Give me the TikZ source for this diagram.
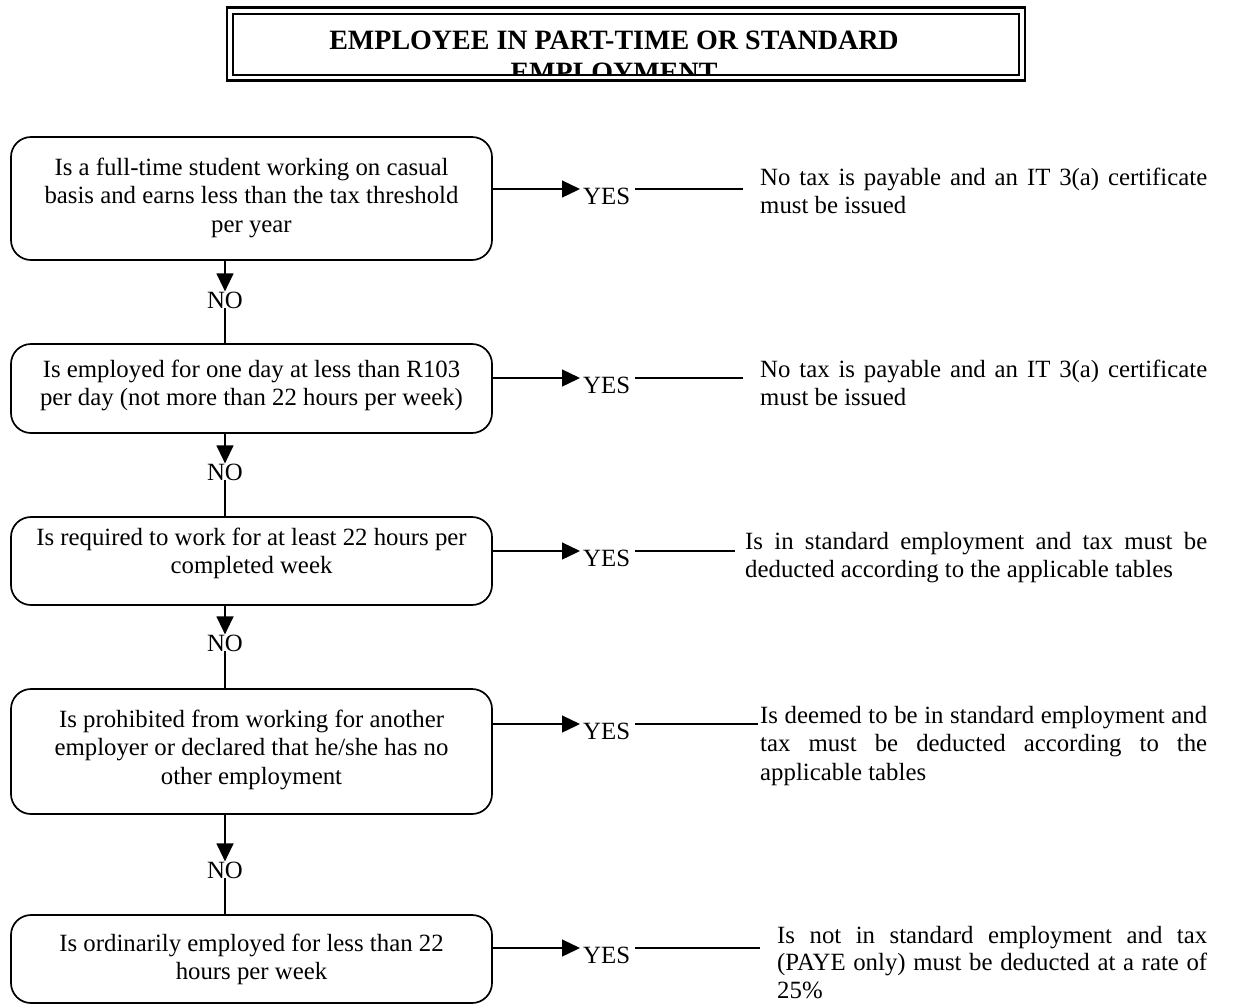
\documentclass[tikz,border=0pt]{standalone}
\usepackage{fontspec}
\setmainfont{Liberation Serif}
\usetikzlibrary{arrows.meta,calc}
\newcommand{\bodyfont}{\fontsize{24.8}{28.6}\selectfont}
\newcommand{\titlefont}{\fontsize{28}{32}\selectfont\bfseries}
\begin{document}
\begin{tikzpicture}[x=1pt,y=-1pt,
  qbox/.style={draw, line width=1.7pt, rounded corners=20pt, minimum width=481pt, inner sep=0pt},
  qtext/.style={anchor=base, inner sep=0pt, font=\bodyfont},
  rtext/.style={anchor=base west, inner sep=0pt, font=\bodyfont},
  lab/.style={anchor=base, inner sep=0pt, font=\bodyfont},
  ylab/.style={anchor=base west, inner sep=0pt, font=\bodyfont},
  conn/.style={line width=1.3pt},
  arr/.style={conn, -{Triangle[length=18pt,width=17pt]}},
  frame/.style={line width=2.2pt}
]
\useasboundingbox (0,0) rectangle (1236,1005);
\fill[white] (0,0) rectangle (1236,1005);

% title
\begin{scope}
  \clip (234.2,14.7) rectangle (1017.8,73.9);
  \node[anchor=base, inner sep=0pt, font=\titlefont] (title) at (614,49)
    {\parbox[t]{780pt}{\centering EMPLOYEE IN PART-TIME OR STANDARD\\EMPLOYMENT}};
\end{scope}
\draw[frame, line width=2.6pt] (227,7.5) rectangle (1025,80.5);
\draw[frame, line width=2pt] (233,13.5) rectangle (1019,75);

% boxes
\node[qbox, minimum height=123pt] (b1) at (251.5,198.5) {};
\node[qbox, minimum height=89pt]  (b2) at (251.5,388.5) {};
\node[qbox, minimum height=88pt]  (b3) at (251.5,561) {};
\node[qbox, minimum height=125pt] (b4) at (251.5,751.5) {};
\node[qbox, minimum height=88pt]  (b5) at (251.5,959) {};

\node[qtext] (t1) at (251.5,175) {\parbox[t]{470pt}{\centering Is a full-time student working on casual\\basis and earns less than the tax threshold\\per year}};
\node[qtext] (t2) at (251.5,377) {\parbox[t]{470pt}{\centering Is employed for one day at less than R103\\per day (not more than 22 hours per week)}};
\node[qtext] (t3) at (251.5,545) {\parbox[t]{470pt}{\centering Is required to work for at least 22 hours per\\completed week}};
\node[qtext] (t4) at (251.5,727) {\parbox[t]{470pt}{\centering Is prohibited from working for another\\employer or declared that he/she has no\\other employment}};
\node[qtext] (t5) at (251.5,951) {\parbox[t]{470pt}{\centering Is ordinarily employed for less than 22\\hours per week}};

% NO connectors
\node[lab] (n1) at (225,308) {NO};
\node[lab] (n2) at (225,480) {NO};
\node[lab] (n3) at (225,651) {NO};
\node[lab] (n4) at (225,878) {NO};
\draw[arr] (n1.north |- b1.south) -- (n1.north);
\draw[conn] (n1.south) -- (n1.south |- b2.north);
\draw[arr] (n2.north |- b2.south) -- (n2.north);
\draw[conn] (n2.south) -- (n2.south |- b3.north);
\draw[arr] (n3.north |- b3.south) -- (n3.north);
\draw[conn] (n3.south) -- (n3.south |- b4.north);
\draw[arr] (n4.north |- b4.south) -- (n4.north);
\draw[conn] (n4.south) -- (n4.south |- b5.north);

% YES labels
\node[ylab] (y1) at (583,204) {YES};
\node[ylab] (y2) at (583,393) {YES};
\node[ylab] (y3) at (583,566) {YES};
\node[ylab] (y4) at (583,739) {YES};
\node[ylab] (y5) at (583,963) {YES};

\coordinate (a1) at (580,189);
\coordinate (a2) at (580,378);
\coordinate (a3) at (580,551);
\coordinate (a4) at (580,724);
\coordinate (a5) at (580,948);

% results
\node[rtext] (r1) at (760,185) {\parbox[t]{447pt}{\makebox[447pt][s]{No tax is payable and an IT 3(a) certificate}\\must be issued}};
\node[rtext] (r2) at (760,377) {\parbox[t]{447pt}{\makebox[447pt][s]{No tax is payable and an IT 3(a) certificate}\\must be issued}};
\node[rtext] (r3) at (745,549) {\parbox[t]{462pt}{\makebox[462pt][s]{Is in standard employment and tax must be}\\deducted according to the applicable tables}};
\node[rtext] (r4) at (760,723) {\parbox[t]{447pt}{\makebox[447pt][s]{Is deemed to be in standard employment and}\\\makebox[447pt][s]{tax must be deducted according to the}\\applicable tables}};
\node[rtext] (r5) at (777,943) {\parbox[t]{430pt}{\fontsize{24.8}{27.6}\selectfont\makebox[430pt][s]{Is not in standard employment and tax}\\\makebox[430pt][s]{(PAYE only) must be deducted at a rate of}\\25\%}};

\coordinate (e1) at (743,189);
\coordinate (e2) at (743,378);
\coordinate (e3) at (735,551);
\coordinate (e4) at (758,724);
\coordinate (e5) at (760,948);

\foreach \i in {1,...,5}{
  \draw[arr] (a\i -| b\i.east) -- (a\i);
  \draw[conn] ([xshift=5pt]y\i.east |- a\i) -- (e\i);
}
\end{tikzpicture}
\end{document}
